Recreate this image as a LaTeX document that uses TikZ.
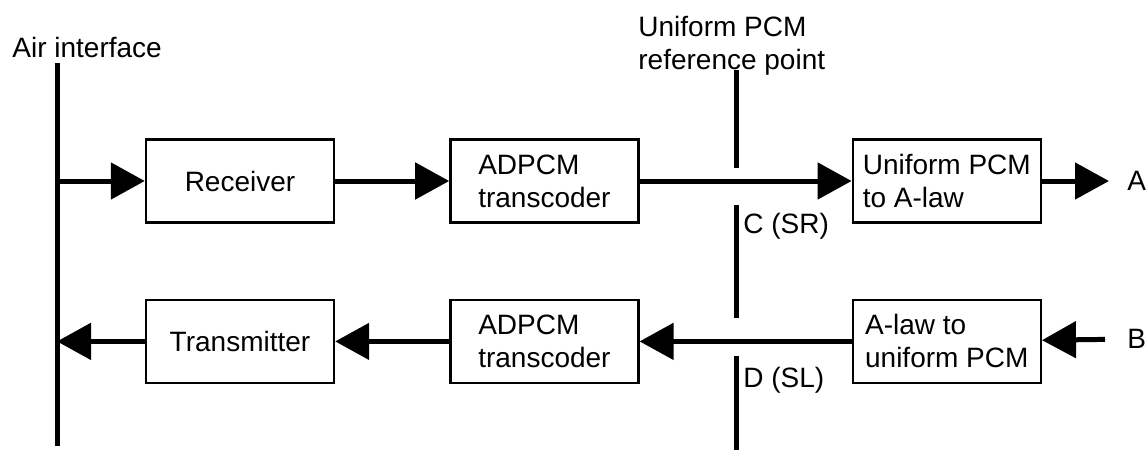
\documentclass[tikz,border=0pt]{standalone}
\usepackage{fontspec}
\setmainfont{Liberation Sans}
\usetikzlibrary{arrows.meta, positioning}
\tikzset{
  block/.style={
    rectangle, draw=black, line width=1.2pt,
    minimum width=94pt, minimum height=41.5pt,
    align=left, inner sep=0pt,
    font=\fontsize{14}{16.5}\selectfont
  },
  flow/.style={
    -{Triangle[length=17pt, width=18pt]}, line width=2.5pt
  },
  busline/.style={
    line width=2.5pt
  },
  tag/.style={
    font=\fontsize{14}{16.5}\selectfont,
    inner sep=0pt, align=left
  }
}

\begin{document}
\begin{tikzpicture}[x=0.5pt, y=-0.5pt, node distance=37.5pt and 57pt]
  \useasboundingbox (0,0) rectangle (1148,450);

  % -- receive path: top row --
  \node[block] (rx) at (240,181) {Receiver};
  \node[block, right=of rx]         (adrx)   {ADPCM\\transcoder};
  \node[block, right=106pt of adrx] (toalaw) {Uniform PCM\\to A-law};

  % -- transmit path: bottom row --
  \node[block, below=of rx]     (tx)       {Transmitter};
  \node[block, below=of adrx]   (adtx)     {ADPCM\\transcoder};
  \node[block, below=of toalaw] (fromalaw) {A-law to\\uniform PCM};

  % -- air interface --
  \node[tag, anchor=base west] (airlabel) at (12,57) {Air interface};
  \coordinate (airtop) at (57,63);
  \coordinate (airbot) at (57,446);
  \draw[busline] (airtop) -- (airbot);
  \coordinate (airin)  at (airtop |- rx);
  \coordinate (airout) at (airtop |- tx);

  % -- uniform PCM reference point --
  \node[tag, anchor=base west] (reflabel) at (638,69) {Uniform PCM\\reference point};
  \foreach \ya/\yb in {70/168, 205/318, 356/450}
    \draw[busline] (736,\ya) -- (736,\yb);
  \node[tag, anchor=base west] (csr) at (743,233) {C (SR)};
  \node[tag, anchor=base west] (dsl) at (743,387) {D (SL)};

  % -- end points --
  \node[tag, anchor=west] (outA) at (1127,181) {A};
  \node[tag, anchor=west] (inB)  at (1127,339) {B};

  % arrows -- receive
  \draw[flow] (airin)  -- (rx);
  \draw[flow] (rx)     -- (adrx);
  \draw[flow] (adrx)   -- (toalaw);
  \draw[flow, shorten >=9pt] (toalaw) -- (outA);

  % arrows -- transmit
  \draw[flow, shorten <=11pt] (inB) -- (fromalaw);
  \draw[flow] (fromalaw) -- (adtx);
  \draw[flow] (adtx)     -- (tx);
  \draw[flow] (tx)       -- (airout);

\end{tikzpicture}
\end{document}
